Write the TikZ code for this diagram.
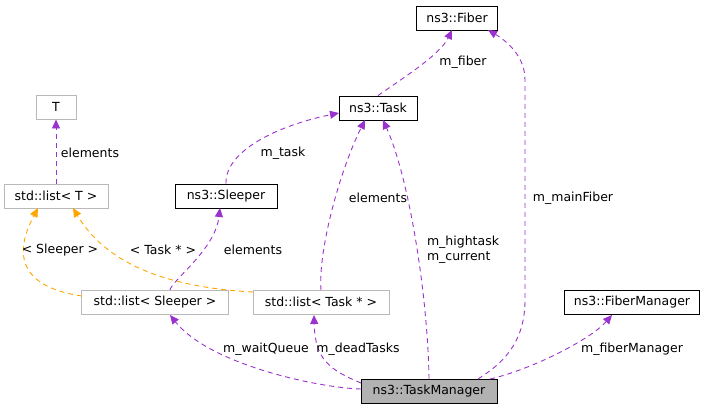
\documentclass[tikz,border=0pt]{standalone}
\usepackage{fontspec}
\setmainfont{DejaVu Sans}
\usetikzlibrary{arrows.meta}
\definecolor{dp}{HTML}{9A32CD}
\definecolor{og}{HTML}{FFA500}
\begin{document}
\begin{tikzpicture}[x=1pt,y=-1pt,
  every node/.style={font=\fontsize{12.5}{15}\selectfont},
  box/.style={draw=black,fill=white,minimum height=24pt,inner sep=2pt,line width=0.9pt},
  gbox/.style={draw=gray!55,fill=white,minimum height=24pt,inner sep=2pt,line width=0.9pt},
  dep/.style={draw=dp,line width=0.9pt,dash pattern=on 5pt off 4pt,-{Triangle[length=9pt,width=8pt]}},
  inh/.style={draw=og,line width=0.9pt,dash pattern=on 5pt off 4pt,-{Triangle[length=9pt,width=8pt]}}]
\useasboundingbox (0,0) rectangle (709,413);
\node[box,minimum width=81pt] (fiber) at (457,18) {ns3::Fiber};
\node[gbox,minimum width=40pt] (T) at (56,107) {T};
\node[box,minimum width=78pt] (task) at (378,108) {ns3::Task};
\node[gbox,minimum width=104pt] (listT) at (56,196) {std::list< T >};
\node[box,minimum width=102pt] (sleeper) at (226,196) {ns3::Sleeper};
\node[gbox,minimum width=147pt] (listS) at (155,302) {std::list< Sleeper >};
\node[gbox,minimum width=136pt] (listTask) at (321,302) {std::list< Task * >};
\node[box,minimum width=135pt] (fm) at (632,302) {ns3::FiberManager};
\node[box,fill=gray!60,minimum width=136pt] (tm) at (429,391) {ns3::TaskManager};

\draw[dep] (task.north) .. controls (400,80) and (440,55) .. (452,30);
\node at (463,62) {m\_fiber};
\draw[dep] (478,379) .. controls (500,365) and (525,345) .. (525,300) -- (525,80) .. controls (525,55) and (505,40) .. (488,30);
\node at (573,198) {m\_mainFiber};
\draw[dep] (sleeper.north) .. controls (225,150) and (280,125) .. (339,113);
\node at (283,153) {m\_task};
\draw[dep] (321,290) .. controls (318,250) and (340,170) .. (365,120);
\node at (378,198) {elements};
\draw[dep] (429,379) .. controls (428,300) and (410,180) .. (383,120);
\node[align=left] at (463,250) {m\_hightask\\m\_current};
\draw[dep] (listT.north) -- (T.south);
\node at (90,153) {elements};
\draw[dep] (170,290) .. controls (172,280) and (215,250) .. (220,208);
\node at (253,250) {elements};
\draw[inh] (82,296) .. controls (40,290) and (5,270) .. (38,208);
\node at (60,250) {< Sleeper >};
\draw[inh] (253,292) .. controls (180,288) and (110,270) .. (73,208);
\node at (163,250) {< Task * >};
\draw[dep] (361,389) .. controls (320,388) and (210,365) .. (170,315);
\node at (266,349) {m\_waitQueue};
\draw[dep] (361,383) .. controls (330,370) and (315,360) .. (314,315);
\node at (358,349) {m\_deadTasks};
\draw[dep] (490,379) .. controls (530,370) and (590,340) .. (612,315);
\node at (632,349) {m\_fiberManager};
\end{tikzpicture}
\end{document}
